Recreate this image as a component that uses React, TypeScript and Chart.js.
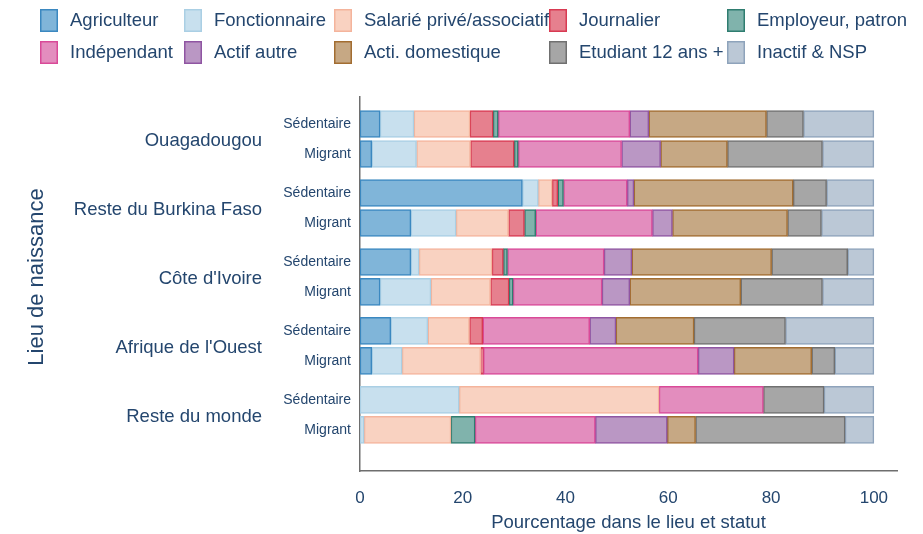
import React, { useEffect, useRef } from 'react';
import { Chart, registerables } from 'chart.js';

Chart.register(...registerables);

// ---- Data ----
const places = ['Ouagadougou', 'Reste du Burkina Faso', "Côte d'Ivoire", "Afrique de l'Ouest", 'Reste du monde'];
const statuses = ['Sédentaire', 'Migrant'];
const categories = [
  'Agriculteur', 'Fonctionnaire', 'Salarié privé/associatif', 'Journalier', 'Employeur, patron',
  'Indépendant', 'Actif autre', 'Acti. domestique', 'Etudiant 12 ans +', 'Inactif & NSP',
];
const xTicks = [0, 20, 40, 60, 80, 100];

// bar order: Ouaga Séd, Ouaga Mig, RBF Séd, RBF Mig, CI Séd, CI Mig, AO Séd, AO Mig, RdM Séd, RdM Mig
const agriculteur = [3.9, 2.3, 31.6, 9.9, 9.9, 3.9, 6.0, 2.3, 0, 0];
const fonctionnaire = [6.6, 8.7, 3.1, 8.8, 1.6, 9.9, 7.2, 5.9, 19.3, 0.8];
const salarie = [10.9, 10.5, 2.7, 10.2, 14.2, 11.6, 8.1, 15.3, 38.9, 16.9];
const journalier = [4.5, 8.5, 1.1, 3.1, 2.2, 3.6, 2.6, 0.5, 0, 0];
const employeur = [1.0, 0.8, 1.1, 2.2, 0.8, 0.8, 0, 0, 0, 4.7];
const independant = [25.6, 20.1, 12.4, 22.7, 18.8, 17.3, 20.8, 41.8, 20.3, 23.4];
const actifAutre = [3.7, 7.6, 1.3, 3.9, 5.4, 5.4, 5.1, 7.0, 0, 14.0];
const actiDomestique = [22.9, 13.0, 31.0, 22.4, 27.2, 21.6, 15.2, 15.1, 0, 5.5];
const etudiant = [7.2, 18.5, 6.5, 6.6, 14.8, 15.9, 17.8, 4.5, 11.8, 29.1];
const inactif = [13.7, 10.0, 9.2, 10.2, 5.1, 10.0, 17.2, 7.6, 9.7, 5.6];

const seriesValues = [
  agriculteur, fonctionnaire, salarie, journalier, employeur,
  independant, actifAutre, actiDomestique, etudiant, inactif,
];

const fills = [
  '#80b5d9', '#c8e0ee', '#f9d2c1', '#e6808e', '#80b3ac',
  '#e38dbe', '#ba97c4', '#c6a884', '#a6a6a6', '#bbc8d6',
];
const borders = [
  '#3b88c0', '#aacfe4', '#f4b49c', '#d83a52', '#2f7d70',
  '#d94a98', '#8f55a2', '#a26d31', '#707070', '#8ea3bb',
];

const TEXT = '#24466e';
const FONT = "'Liberation Sans', Arial, Helvetica, sans-serif";
const GROUP_STEP = 2.3;

const posOf = (bar: number) => Math.floor(bar / 2) * GROUP_STEP + (bar % 2);
const barPositions = places.flatMap((_, g) => statuses.map((__, s) => posOf(g * 2 + s)));

const decorPlugin = {
  id: 'decor',
  afterDraw(chart: any) {
    const ctx = chart.ctx;
    const yScale = chart.scales.y;
    ctx.save();
    // legend grid
    const cols = [40, 184, 334, 549, 727];
    const rows = [9, 41];
    ctx.font = `18.5px ${FONT}`;
    ctx.textBaseline = 'middle';
    ctx.textAlign = 'left';
    categories.forEach((name, i) => {
      const c = i % 5;
      const r = Math.floor(i / 5);
      const bx = cols[c];
      const by = rows[r];
      ctx.fillStyle = fills[i];
      ctx.fillRect(bx, by, 18, 23);
      ctx.strokeStyle = borders[i];
      ctx.lineWidth = 1.5;
      ctx.strokeRect(bx + 0.75, by + 0.75, 16.5, 21.5);
      ctx.fillStyle = TEXT;
      ctx.fillText(name, bx + 30, by + 12);
    });
    // group labels
    ctx.textAlign = 'right';
    ctx.font = `18.5px ${FONT}`;
    places.forEach((p, g) => {
      const y = yScale.getPixelForValue(g * GROUP_STEP + 0.5);
      ctx.fillText(p, 262, y + 2);
    });
    // y title
    ctx.translate(37, 277);
    ctx.rotate(-Math.PI / 2);
    ctx.textAlign = 'center';
    ctx.font = `22px ${FONT}`;
    ctx.fillText('Lieu de naissance', 0, 0);
    ctx.restore();
  },
};

export default function App() {
  const ref = useRef<HTMLCanvasElement | null>(null);
  useEffect(() => {
    if (!ref.current) return;
    const datasets = categories.map((name, i) => ({
      label: name,
      data: seriesValues[i].map((v, b) => ({ x: v, y: posOf(b) })),
      backgroundColor: fills[i],
      borderColor: borders[i],
      borderWidth: 1.5,
      borderSkipped: false,
      barThickness: 27,
    }));
    const chart = new Chart(ref.current, {
      type: 'bar',
      data: { datasets },
      plugins: [decorPlugin],
      options: {
        animation: false,
        responsive: false,
        devicePixelRatio: 1,
        indexAxis: 'y',
        layout: { padding: { top: 97, right: 26, left: 0, bottom: 0 } },
        plugins: { legend: { display: false }, tooltip: { enabled: false } },
        scales: {
          x: {
            type: 'linear',
            stacked: true,
            min: 0,
            max: 104.5,
            grid: { display: false, drawTicks: false },
            border: { display: true, color: '#6e6e6e', width: 1.5 },
            afterBuildTicks: (scale: any) => {
              scale.ticks = xTicks.map((v) => ({ value: v }));
            },
            afterFit: (scale: any) => {
              scale.height = 63;
            },
            ticks: {
              color: TEXT,
              font: { family: FONT, size: 17 },
              padding: 17,
              maxRotation: 0,
              autoSkip: false,
              callback: (v: any) => String(v),
            },
            title: {
              display: true,
              text: 'Pourcentage dans le lieu et statut',
              color: TEXT,
              font: { family: FONT, size: 18.5 },
              padding: { top: 2, bottom: 0 },
            },
          },
          y: {
            type: 'linear',
            stacked: true,
            reverse: true,
            offset: false,
            min: -0.9,
            max: 11.57,
            grid: { display: false, drawTicks: false, offset: false },
            border: { display: true, color: '#6e6e6e', width: 1.5 },
            afterBuildTicks: (scale: any) => {
              scale.ticks = barPositions.map((v) => ({ value: v }));
            },
            afterFit: (scale: any) => {
              scale.width = 360;
            },
            ticks: {
              color: TEXT,
              font: { family: FONT, size: 14 },
              padding: 9,
              autoSkip: false,
              callback: (_v: any, i: number) => statuses[i % 2],
            },
          },
        },
      },
    } as any);
    return () => chart.destroy();
  }, []);
  return (
    <div style={{ position: 'absolute', left: 0, top: 0, width: 923, height: 534, background: '#fff' }}>
      <canvas ref={ref} width={923} height={534} style={{ display: 'block', width: 923, height: 534 }} />
    </div>
  );
}
